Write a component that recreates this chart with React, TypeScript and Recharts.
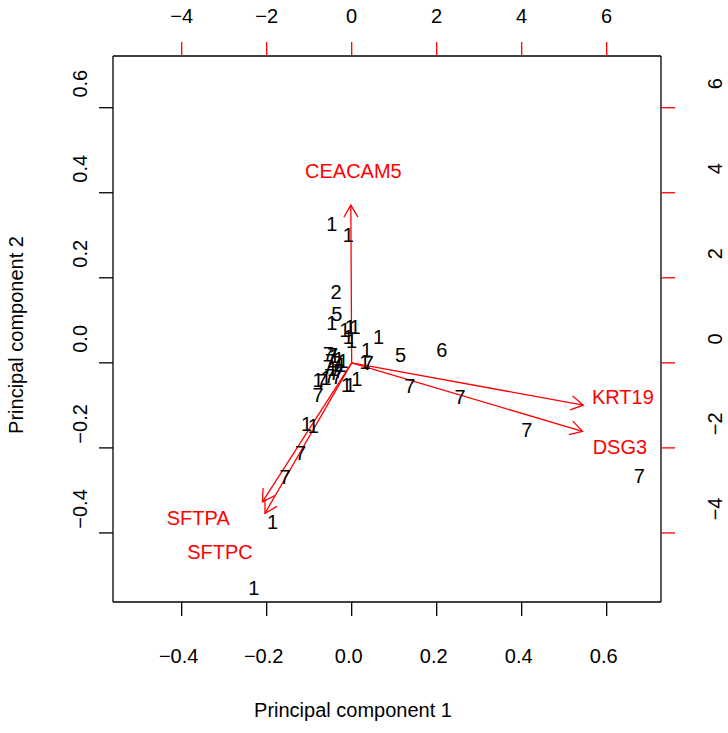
import React from 'react';
import { ScatterChart, Scatter, XAxis, YAxis, ReferenceLine, Label } from 'recharts';

// sample scores (PC1, PC2) and their group labels
const pointLabels = ['1', '1', '2', '5', '1', '1', '1', '1', '1', '1', '1', '1', '1', '7', '7', '7', '1', '7', '1', '7', '1', '7', '1', '7', '1', '7', '1', '7', '1', '7', '7', '1', '1', '1', '7', '5', '6', '7', '7', '7', '7', '1', '1', '7', '7', '1', '1'];
const pc1 = [-0.047, -0.008, -0.037, -0.035, -0.047, -0.016, -0.004, 0.008, -0.008, 0.0, 0.063, 0.035, 0.031, 0.039, -0.055, -0.045, -0.04, -0.05, -0.03, -0.035, -0.025, -0.055, -0.045, -0.03, -0.02, -0.04, -0.079, -0.07, -0.06, -0.052, -0.079, -0.012, -0.004, 0.012, -0.035, 0.115, 0.212, 0.137, 0.255, 0.412, 0.677, -0.106, -0.09, -0.12, -0.157, -0.186, -0.23];
const pc2 = [0.326, 0.3, 0.166, 0.116, 0.093, 0.077, 0.085, 0.085, 0.061, 0.052, 0.061, 0.03, 0.002, -0.001, 0.02, 0.018, 0.015, 0.005, 0.01, 0.0, -0.005, -0.01, -0.015, -0.02, 0.005, -0.025, -0.04, -0.042, -0.035, -0.03, -0.076, -0.052, -0.052, -0.037, -0.033, 0.018, 0.031, -0.055, -0.08, -0.158, -0.266, -0.143, -0.149, -0.213, -0.268, -0.374, -0.529];

// variable loadings (arrow tips) and label anchors, in the top/right axis units
const genes = ['CEACAM5', 'KRT19', 'DSG3', 'SFTPA', 'SFTPC'];
const loadX = [-0.02, 5.45, 5.43, -2.1, -2.04];
const loadY = [3.71, -0.995, -1.61, -3.27, -3.54];
const labX = [0.04, 6.38, 6.31, -3.61, -3.1];
const labY = [4.52, -0.8, -1.99, -3.66, -4.45];

const pcTicks = [-0.4, -0.2, 0.0, 0.2, 0.4, 0.6];
const loadTicks = [-4, -2, 0, 2, 4, 6];

const X_DOMAIN: [number, number] = [-0.5616, 0.7278];
const Y_DOMAIN: [number, number] = [-0.5624, 0.7216];

const FONT = 'Liberation Sans, Arial, sans-serif';
const FS = 20;
const RED = '#ff0000';

const points = pointLabels.map((lab, i) => ({ x: pc1[i], y: pc2[i], lab }));
const tips = genes.map((g, i) => ({ x: loadX[i], y: loadY[i], g }));
const geneLabels = genes.map((g, i) => ({ x: labX[i], y: labY[i], g }));

const fmtPc = (v: number) => (v < 0 ? '\u2212' : '') + Math.abs(v).toFixed(1);
const fmtLoad = (v: number) => (v < 0 ? '\u2212' : '') + Math.abs(v).toString();

const BottomTick = (props: any) => (
  <text x={props.x - 3} y={props.y + 40} textAnchor="middle" dominantBaseline="central" fontFamily={FONT} fontSize={FS} fill="#000">
    {fmtPc(props.payload.value)}
  </text>
);

const TopTick = (props: any) => (
  <text x={props.x} y={props.y - 26} textAnchor="middle" dominantBaseline="central" fontFamily={FONT} fontSize={FS} fill="#000">
    {fmtLoad(props.payload.value)}
  </text>
);

const LeftTick = (props: any) => {
  const cx = props.x - 19;
  const cy = props.y - 24;
  return (
    <text x={cx} y={cy} transform={`rotate(-90, ${cx}, ${cy})`} textAnchor="middle" dominantBaseline="central" fontFamily={FONT} fontSize={FS} fill="#000">
      {fmtPc(props.payload.value)}
    </text>
  );
};

const RightTick = (props: any) => {
  const cx = props.x + 40;
  const cy = props.y - 24;
  return (
    <text x={cx} y={cy} transform={`rotate(-90, ${cx}, ${cy})`} textAnchor="middle" dominantBaseline="central" fontFamily={FONT} fontSize={FS} fill="#000">
      {fmtLoad(props.payload.value)}
    </text>
  );
};

const PointText = (props: any) => (
  <text x={props.cx} y={props.cy} textAnchor="middle" dominantBaseline="central" fontFamily={FONT} fontSize={FS} fill="#000">
    {props.payload.lab}
  </text>
);

const GeneText = (props: any) => (
  <text x={props.cx} y={props.cy} textAnchor="middle" dominantBaseline="central" fontFamily={FONT} fontSize={FS} fill={RED}>
    {props.payload.g}
  </text>
);

// open arrowhead; both axes share the same px per unit so data angle == screen angle
const ArrowHead = (props: any) => {
  const { cx, cy, payload } = props;
  const ang = Math.atan2(-payload.y, payload.x);
  const len = 14;
  const spread = Math.PI / 6;
  const a1 = ang + Math.PI - spread;
  const a2 = ang + Math.PI + spread;
  const d = `M${cx + len * Math.cos(a1)},${cy + len * Math.sin(a1)} L${cx},${cy} L${cx + len * Math.cos(a2)},${cy + len * Math.sin(a2)}`;
  return <path d={d} stroke={RED} strokeWidth={1.3} fill="none" />;
};

const XTitle = (props: any) => {
  const vb = props.viewBox;
  return (
    <text x={vb.x + vb.width / 2 - 34} y={710} textAnchor="middle" dominantBaseline="central" fontFamily={FONT} fontSize={FS} fill="#000">
      Principal component 1
    </text>
  );
};

const YTitle = () => {
  const cx = 16;
  const cy = 335;
  return (
    <text x={cx} y={cy} transform={`rotate(-90, ${cx}, ${cy})`} textAnchor="middle" dominantBaseline="central" fontFamily={FONT} fontSize={FS} fill="#000">
      Principal component 2
    </text>
  );
};

export default function App() {
  return (
    <div style={{ position: 'absolute', left: 0, top: 0, background: '#fff' }}>
      <ScatterChart width={728} height={733} margin={{ top: 0, right: 0, bottom: 0, left: 0 }}>
        <XAxis xAxisId="pc" dataKey="x" type="number" orientation="bottom" height={131} domain={X_DOMAIN} allowDataOverflow ticks={pcTicks} interval={0} tickSize={14} tickMargin={0} tickLine={{ stroke: '#000', strokeWidth: 1.3 }} axisLine={{ stroke: '#000', strokeWidth: 1.3 }} tick={<BottomTick />}>
          <Label content={<XTitle />} />
        </XAxis>
        <XAxis xAxisId="ld" dataKey="x" type="number" orientation="top" height={56} domain={[X_DOMAIN[0] * 10, X_DOMAIN[1] * 10]} allowDataOverflow ticks={loadTicks} interval={0} tickSize={14} tickMargin={0} tickLine={{ stroke: RED, strokeWidth: 1.3 }} axisLine={{ stroke: '#000', strokeWidth: 1.3 }} tick={<TopTick />} />
        <YAxis yAxisId="pc" dataKey="y" type="number" orientation="left" width={113} domain={Y_DOMAIN} allowDataOverflow ticks={pcTicks} interval={0} tickSize={14} tickMargin={0} tickLine={{ stroke: '#000', strokeWidth: 1.3 }} axisLine={{ stroke: '#000', strokeWidth: 1.3 }} tick={<LeftTick />}>
          <Label content={<YTitle />} />
        </YAxis>
        <YAxis yAxisId="ld" dataKey="y" type="number" orientation="right" width={67} domain={[Y_DOMAIN[0] * 10, Y_DOMAIN[1] * 10]} allowDataOverflow ticks={loadTicks} interval={0} tickSize={14} tickMargin={0} tickLine={{ stroke: RED, strokeWidth: 1.3 }} axisLine={{ stroke: '#000', strokeWidth: 1.3 }} tick={<RightTick />} />
        <Scatter xAxisId="pc" yAxisId="pc" data={points} shape={<PointText />} isAnimationActive={false} />
        {tips.map((t) => (
          <ReferenceLine key={t.g} xAxisId="ld" yAxisId="ld" segment={[{ x: 0, y: 0 }, { x: t.x, y: t.y }]} stroke={RED} strokeWidth={1.3} ifOverflow="visible" />
        ))}
        <Scatter xAxisId="ld" yAxisId="ld" data={tips} shape={<ArrowHead />} isAnimationActive={false} />
        <Scatter xAxisId="ld" yAxisId="ld" data={geneLabels} shape={<GeneText />} isAnimationActive={false} />
      </ScatterChart>
    </div>
  );
}
